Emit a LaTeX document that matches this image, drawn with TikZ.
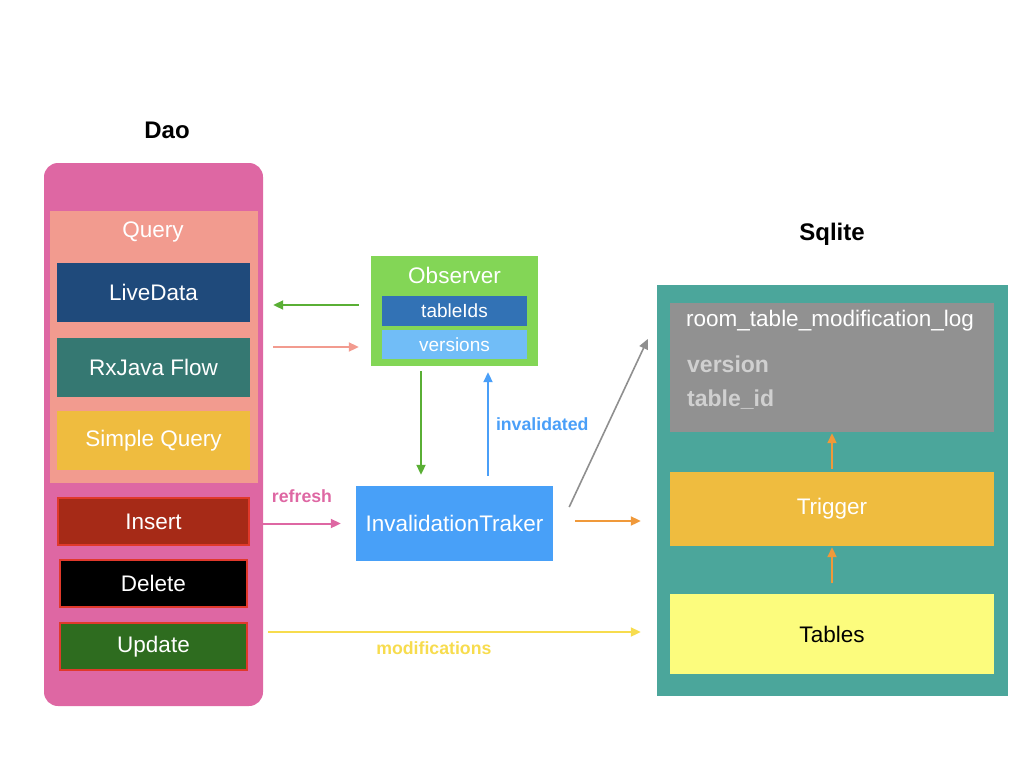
\documentclass[tikz,border=0pt]{standalone}
\usepackage{fontspec}
\setmainfont{Liberation Sans}
\usepackage[HTML]{xcolor}
\usepackage{tikz}
\usetikzlibrary{positioning, arrows.meta, calc}

\definecolor{daopink}{HTML}{DE67A3}
\definecolor{querysalmon}{HTML}{F29B8F}
\definecolor{liveblue}{HTML}{1F4A7B}
\definecolor{rxteal}{HTML}{357872}
\definecolor{simpleyellow}{HTML}{EFBC3F}
\definecolor{insertred}{HTML}{A62A17}
\definecolor{cmdborder}{HTML}{E0392B}
\definecolor{updategreen}{HTML}{2E6C1F}
\definecolor{obsgreen}{HTML}{83D656}
\definecolor{tidblue}{HTML}{3272B5}
\definecolor{verblue}{HTML}{71BDF7}
\definecolor{invblue}{HTML}{48A0F8}
\definecolor{sqlteal}{HTML}{4BA69B}
\definecolor{loggray}{HTML}{919191}
\definecolor{tabyellow}{HTML}{FCFC7D}
\definecolor{fieldgray}{HTML}{D0D0D0}
\definecolor{arrgreen}{HTML}{5AAF35}
\definecolor{arrblue}{HTML}{4A9FF8}
\definecolor{arrorange}{HTML}{F0993A}
\definecolor{arrgray}{HTML}{8F8F8F}
\definecolor{arryellow}{HTML}{F7DC4E}

\begin{document}
\begin{tikzpicture}[x=1pt, y=-1pt,
  blk/.style={inner sep=0, text=white, font=\fontsize{22.5}{26}\selectfont},
  cmd/.style={blk, draw=cmdborder, line width=2pt},
  ttl/.style={inner sep=0, font=\bfseries\fontsize{24}{28}\selectfont},
  lbl/.style={inner sep=2pt, font=\bfseries\fontsize{17.7}{20}\selectfont},
  con/.style={line width=2pt, -{Triangle[length=10pt,width=9pt]}}]
\useasboundingbox (0,0) rectangle (1024,768);

% Dao
\node[ttl] (daottl) at (167,130) {Dao};
\node[fill=daopink, rounded corners=14pt, minimum width=219pt, minimum height=543pt, inner sep=0] (dao) at (153.5,434.5) {};
\node[fill=querysalmon, minimum width=208pt, minimum height=272pt, inner sep=0] (query) at (154,347) {};
\node[blk] (qlbl) at (153,232) {Query};
\node[blk, fill=liveblue, minimum width=193pt, minimum height=59pt] (live) at (153.5,292.5) {LiveData};
\node[blk, fill=rxteal, minimum width=193pt, minimum height=59pt] (rx) at (153.5,367.5) {RxJava Flow};
\node[blk, fill=simpleyellow, minimum width=193pt, minimum height=59pt] (simple) at (153.5,440.5) {Simple Query};
\node[cmd, fill=insertred, minimum width=191pt, minimum height=47pt] (ins) at (153.5,521.5) {Insert};
\node[cmd, fill=black, minimum width=187pt, minimum height=47pt] (del) at (153.5,583.5) {Delete};
\node[cmd, fill=updategreen, minimum width=187pt, minimum height=47pt] (upd) at (153.5,646.5) {Update};

% Observer + tracker
\node[fill=obsgreen, minimum width=167pt, minimum height=110pt, inner sep=0] (obs) at (454.5,311) {};
\node[blk] (olbl) at (454.5,275) {Observer};
\node[blk, fill=tidblue, minimum width=145pt, minimum height=30pt, font=\fontsize{19}{22}\selectfont] (tid) at (454.5,311) {tableIds};
\node[blk, fill=verblue, minimum width=145pt, minimum height=29pt, font=\fontsize{19}{22}\selectfont] (ver) at (454.5,344.5) {versions};
\node[blk, fill=invblue, minimum width=197pt, minimum height=75pt] (inv) at (454.5,523.5) {InvalidationTraker};

% Sqlite
\node[ttl] (sqlttl) at (832,234) {Sqlite};
\node[fill=sqlteal, minimum width=351pt, minimum height=411pt, inner sep=0] (sql) at (832.5,490.5) {};
\node[fill=loggray, minimum width=324pt, minimum height=129pt, inner sep=0] (log) at (832,367.5) {};
\node[blk, anchor=west] (logname) at (686,321) {room\_table\_modification\_log};
\node[blk, anchor=west, text=fieldgray, font=\bfseries\fontsize{23}{26}\selectfont] (fver) at (687,364) {version};
\node[blk, anchor=west, text=fieldgray, font=\bfseries\fontsize{23}{26}\selectfont] (fid) at (687,400) {table\_id};
\node[blk, fill=simpleyellow, minimum width=324pt, minimum height=74pt] (trig) at (832,509) {Trigger};
\node[blk, fill=tabyellow, text=black, minimum width=324pt, minimum height=80pt] (tab) at (832,634) {Tables};

% connectors
\draw[con, arrgreen] ($(obs.west)+(-12,-6)$) -- ($(dao.east |- obs.west)+(10,-6)$);
\draw[con, querysalmon] ($(dao.east |- obs.west)+(10,36)$) -- ($(obs.west)+(-12,36)$);
\draw[con, arrgreen] ($(obs.south)+(-33.5,5)$) -- ($(inv.north)+(-33.5,-11)$);
\draw[con, arrblue] ($(inv.north)+(33.5,-10)$) -- ($(obs.south)+(33.5,6)$)
  node[lbl, midway, right=5pt, text=arrblue] (invd) {invalidated};
\draw[con, daopink] (dao.east |- inv.west) -- ($(inv.west)+(-15,0)$)
  node[lbl, midway, above=18pt, text=daopink] (refr) {refresh};
\draw[con, arrorange] ($(inv.east)+(22,-2.5)$) -- ($(sql.west |- inv.east)+(-16,-2.5)$);
\draw[con, arrgray, line width=1.6pt] ($(inv.east)+(16,-16.5)$) -- ($(log.west)+(-22,-28.5)$);
\draw[con, arryellow] ($(upd.east)+(20,-14.5)$) -- ($(sql.west |- upd.east)+(-16,-14.5)$)
  node[lbl, pos=0.445, below=7pt, text=arryellow] (modf) {modifications};
\draw[con, arrorange] ($(trig.north)+(0,-3)$) -- ($(log.south)+(0,1)$);
\draw[con, arrorange] ($(tab.north)+(0,-11)$) -- ($(trig.south)+(0,1)$);
\end{tikzpicture}
\end{document}
